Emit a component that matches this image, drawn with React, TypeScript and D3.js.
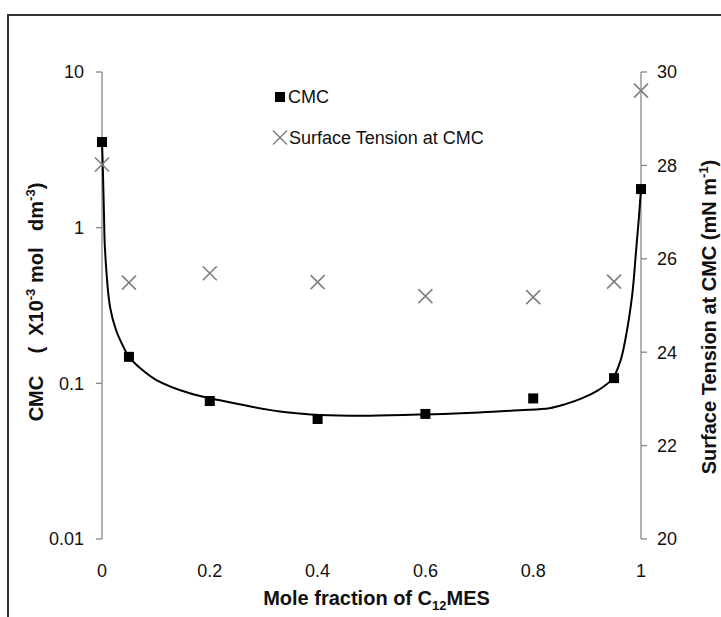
import React, { useRef, useEffect } from "react";
import * as d3 from "d3";

// measured points
const moleFraction = [0, 0.05, 0.2, 0.4, 0.6, 0.8, 0.95, 1];
const cmcValues = [3.55, 0.148, 0.077, 0.059, 0.0636, 0.08, 0.108, 1.77];
const surfaceTension = [28.02, 25.49, 25.69, 25.5, 25.2, 25.18, 25.51, 29.6];

// fitted curve
const curveX = [
  0, 0.0013, 0.0037, 0.0056, 0.0148, 0.026, 0.0395, 0.05, 0.0705, 0.101,
  0.163, 0.219, 0.28, 0.342, 0.404, 0.496, 0.598, 0.7, 0.775, 0.83, 0.86,
  0.89, 0.92, 0.947, 0.962, 0.972, 0.984, 0.991, 0.996, 1,
];
const curveY = [
  3.5, 2.6, 1.21, 0.72, 0.311, 0.22, 0.172, 0.148, 0.1256, 0.105, 0.0863,
  0.0778, 0.0705, 0.0652, 0.0627, 0.062, 0.0631, 0.065, 0.0672, 0.0692,
  0.0735, 0.08, 0.09, 0.107, 0.14, 0.2, 0.379, 0.72, 1.15, 1.77,
];

const xTicks = [0, 0.2, 0.4, 0.6, 0.8, 1];
const xTickLabels = ["0", "0.2", "0.4", "0.6", "0.8", "1"];
const leftTicks = [10, 1, 0.1, 0.01];
const leftTickLabels = ["10", "1", "0.1", "0.01"];
const rightTicks = [20, 22, 24, 26, 28, 30];

const App = () => {
  const ref = useRef(null);
  const width = 721;
  const height = 617;

  useEffect(() => {
    const svg = d3.select(ref.current);
    svg.selectAll("*").remove();

    const font = "'Liberation Sans', Arial, sans-serif";
    const left = 102;
    const right = 641;
    const top = 72;
    const bottom = 539;

    const x = d3.scaleLinear().domain([0, 1]).range([left, right]);
    const yL = d3.scaleLog().domain([0.01, 10]).range([bottom, top]);
    const yR = d3.scaleLinear().domain([20, 30]).range([bottom, top]);

    // outer frame (cropped at right and bottom)
    svg
      .append("rect")
      .attr("x", 8)
      .attr("y", 15)
      .attr("width", 760)
      .attr("height", 700)
      .attr("fill", "none")
      .attr("stroke", "#333")
      .attr("stroke-width", 2);

    // left axis
    const gL = svg.append("g");
    gL.append("line")
      .attr("x1", left)
      .attr("x2", left)
      .attr("y1", top)
      .attr("y2", bottom)
      .attr("stroke", "#888")
      .attr("stroke-width", 1.3);
    leftTicks.forEach((t, i) => {
      gL.append("line")
        .attr("x1", left - 6)
        .attr("x2", left)
        .attr("y1", yL(t))
        .attr("y2", yL(t))
        .attr("stroke", "#888")
        .attr("stroke-width", 1.3);
      gL.append("text")
        .attr("x", 84)
        .attr("y", yL(t))
        .attr("dy", "0.35em")
        .attr("text-anchor", "end")
        .style("font-family", font)
        .style("font-size", "18px")
        .attr("fill", "#111")
        .text(leftTickLabels[i]);
    });

    // right axis
    const gR = svg.append("g");
    gR.append("line")
      .attr("x1", right)
      .attr("x2", right)
      .attr("y1", top)
      .attr("y2", bottom)
      .attr("stroke", "#888")
      .attr("stroke-width", 1.3);
    rightTicks.forEach((t) => {
      gR.append("line")
        .attr("x1", right)
        .attr("x2", right + 6)
        .attr("y1", yR(t))
        .attr("y2", yR(t))
        .attr("stroke", "#888")
        .attr("stroke-width", 1.3);
      gR.append("text")
        .attr("x", 657)
        .attr("y", yR(t))
        .attr("dy", "0.35em")
        .style("font-family", font)
        .style("font-size", "18px")
        .attr("fill", "#111")
        .text(t);
    });

    // x tick labels
    xTicks.forEach((t, i) => {
      svg
        .append("text")
        .attr("x", x(t))
        .attr("y", 577)
        .attr("text-anchor", "middle")
        .style("font-family", font)
        .style("font-size", "18px")
        .attr("fill", "#111")
        .text(xTickLabels[i]);
    });

    // axis titles
    const xt = svg
      .append("text")
      .attr("x", (left + right) / 2 + 5)
      .attr("y", 605)
      .attr("text-anchor", "middle")
      .style("font-family", font)
      .style("font-size", "20px")
      .style("font-weight", "bold")
      .attr("fill", "#111");
    xt.append("tspan").text("Mole fraction of C");
    xt.append("tspan").attr("dy", 5).style("font-size", "13px").text("12");
    xt.append("tspan").attr("dy", -5).text("MES");

    const yt = svg
      .append("text")
      .attr("transform", "translate(43, 302) rotate(-90)")
      .attr("text-anchor", "middle")
      .style("font-family", font)
      .style("font-size", "20px")
      .style("font-weight", "bold")
      .style("white-space", "pre")
      .attr("fill", "#111");
    yt.append("tspan").text("CMC    (  X10");
    yt.append("tspan").attr("dy", -8).style("font-size", "13px").text("-3");
    yt.append("tspan").attr("dy", 8).text(" mol   dm");
    yt.append("tspan").attr("dy", -8).style("font-size", "13px").text("-3");
    yt.append("tspan").attr("dy", 8).text(")");

    const yt2 = svg
      .append("text")
      .attr("transform", "translate(716, 317) rotate(-90)")
      .attr("text-anchor", "middle")
      .style("font-family", font)
      .style("font-size", "20px")
      .style("font-weight", "bold")
      .attr("fill", "#111");
    yt2.append("tspan").text("Surface Tension at CMC (mN m");
    yt2.append("tspan").attr("dy", -8).style("font-size", "13px").text("-1");
    yt2.append("tspan").attr("dy", 8).text(")");

    // fitted curve
    const curvePts = curveX.map((v, i) => [v, curveY[i]]);
    const line = d3
      .line()
      .x((d) => x(d[0]))
      .y((d) => yL(d[1]))
      .curve(d3.curveCatmullRom.alpha(0.5));
    svg
      .append("path")
      .datum(curvePts)
      .attr("d", line)
      .attr("fill", "none")
      .attr("stroke", "#000")
      .attr("stroke-width", 2);

    // surface tension crosses
    const cs = 7;
    moleFraction.forEach((m, i) => {
      const cx = x(m);
      const cy = yR(surfaceTension[i]);
      svg
        .append("path")
        .attr("d", `M${cx - cs},${cy - cs}L${cx + cs},${cy + cs}M${cx - cs},${cy + cs}L${cx + cs},${cy - cs}`)
        .attr("stroke", "#7f7f7f")
        .attr("stroke-width", 1.6)
        .attr("fill", "none");
    });

    // CMC squares
    moleFraction.forEach((m, i) => {
      svg
        .append("rect")
        .attr("x", x(m) - 5)
        .attr("y", yL(cmcValues[i]) - 5)
        .attr("width", 10)
        .attr("height", 10)
        .attr("fill", "#000");
    });

    // legend
    svg
      .append("rect")
      .attr("x", 275)
      .attr("y", 92)
      .attr("width", 10)
      .attr("height", 10)
      .attr("fill", "#000");
    svg
      .append("text")
      .attr("x", 288)
      .attr("y", 97)
      .attr("dy", "0.35em")
      .style("font-family", font)
      .style("font-size", "18px")
      .attr("fill", "#111")
      .text("CMC");
    const lx = 280;
    const ly = 137.5;
    svg
      .append("path")
      .attr("d", `M${lx - 7},${ly - 7}L${lx + 7},${ly + 7}M${lx - 7},${ly + 7}L${lx + 7},${ly - 7}`)
      .attr("stroke", "#7f7f7f")
      .attr("stroke-width", 1.5);
    svg
      .append("text")
      .attr("x", 289)
      .attr("y", ly)
      .attr("dy", "0.35em")
      .style("font-family", font)
      .style("font-size", "18px")
      .attr("fill", "#111")
      .text("Surface Tension at CMC");
  }, []);

  return (
    <svg
      ref={ref}
      width={width}
      height={height}
      style={{ position: "absolute", left: 0, top: 0, background: "#fff" }}
    />
  );
};

export default App;
